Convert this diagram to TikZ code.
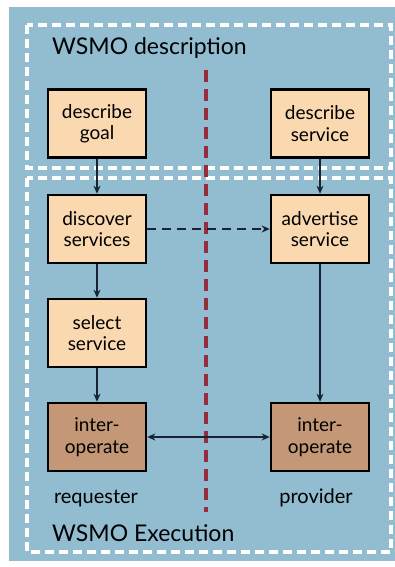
\documentclass[tikz,border=0pt]{standalone}
\usepackage{fontspec}
\setmainfont{Lato}
\usetikzlibrary{arrows.meta}
\definecolor{panel}{RGB}{146,188,208}
\definecolor{peach}{RGB}{250,216,176}
\definecolor{clay}{RGB}{196,152,118}
\definecolor{navy}{RGB}{24,36,52}
\definecolor{wine}{RGB}{150,45,58}
\begin{document}
\begin{tikzpicture}[x=1pt,y=-1pt,
  >={Stealth[length=8pt,width=7pt]},
  stepbox/.style={draw=black,line width=2.6pt,fill=peach,minimum width=98pt,minimum height=68pt,
    align=center,font=\fontsize{19}{21.5}\selectfont,text=black,inner sep=0pt},
  actbox/.style={stepbox,fill=clay},
  flow/.style={draw=navy,line width=2pt,->},
  zone/.style={draw=white,line width=3.2pt,dash pattern=on 9pt off 5pt},
  heading/.style={font=\fontsize{23}{26}\selectfont,text=black,anchor=base west,inner sep=0pt},
  side/.style={font=\fontsize{20}{22}\selectfont,text=black,anchor=base,inner sep=0pt}]
\useasboundingbox (0,0) rectangle (395,567);
\fill[panel] (9,7) rectangle (395,561);
% upper and lower zones
\draw[zone] (27,25) rectangle (391,168);
\draw[zone] (27,178) rectangle (391,552);
% separator between requester and provider
\coordinate (septop) at (206,70);
\coordinate (sepbot) at (206,512);
\draw[wine,line width=4.2pt,dash pattern=on 12pt off 7pt] (septop) -- (sepbot);
% headings
\node[heading] (desc) at (52,55) {WSMO description};
\node[heading] (exec) at (52,541) {WSMO Execution};
\node[side] (req) at (96,503) {requester};
\node[side] (prov) at (316,503) {provider};
% requester steps
\node[stepbox] (goal) at (97,123.5) {describe\\goal};
\node[stepbox] (disc) at (97,229) {discover\\services};
\node[stepbox] (sel) at (97,333) {select\\service};
\node[actbox] (ioreq) at (97,437) {inter-\\operate};
% provider steps
\node[stepbox] (dserv) at (320,123.5) {describe\\service};
\node[stepbox] (adv) at (320,229) {advertise\\service};
\node[actbox] (ioprov) at (320,437) {inter-\\operate};
% connectors
\draw[flow] (goal) -- (disc);
\draw[flow] (disc) -- (sel);
\draw[flow] (sel) -- (ioreq);
\draw[flow] (dserv) -- (adv);
\draw[flow] (adv) -- (ioprov);
\draw[flow,line width=2.8pt,dash pattern=on 9pt off 6pt] (disc) -- (adv);
\draw[flow,<->] (ioreq) -- (ioprov);
\end{tikzpicture}
\end{document}
